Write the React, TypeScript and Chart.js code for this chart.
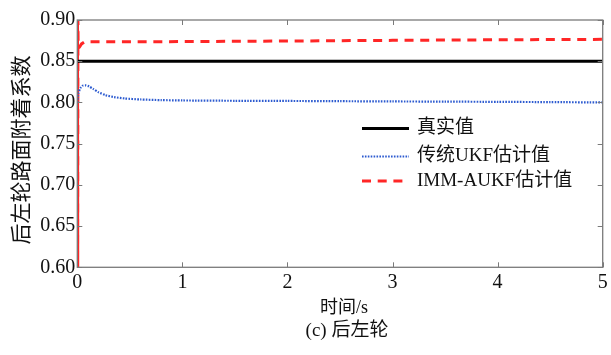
import React, { useEffect, useRef } from "react";
import { Chart, registerables } from "chart.js";

Chart.register(...registerables);

const seriesNames = ["真实值", "传统UKF估计值", "IMM-AUKF估计值"];

const trueT = [0, 5];
const trueV = [0.85, 0.85];

const ukfT = [0, 0.01, 0.03, 0.05, 0.08, 0.11, 0.15, 0.2, 0.27, 0.35, 0.45, 0.6, 0.8, 1.0, 1.5, 2.0, 2.5, 3.0, 3.5, 4.0, 4.5, 5.0];
const ukfV = [0.8, 0.811, 0.8175, 0.8203, 0.8207, 0.8195, 0.8165, 0.8125, 0.8088, 0.8065, 0.8048, 0.8036, 0.8028, 0.8024, 0.802, 0.8018, 0.8015, 0.8012, 0.801, 0.8007, 0.8004, 0.8];

const immT = [0, 0.002, 0.004, 0.006, 0.008, 0.02, 0.04, 0.07, 0.3, 1.0, 2.0, 3.0, 4.0, 5.0];
const immV = [0.6, 0.9, 0.6, 0.9, 0.866, 0.867, 0.871, 0.8735, 0.8735, 0.8738, 0.8745, 0.8753, 0.876, 0.8765];

const xTicks = [0, 1, 2, 3, 4, 5];
const yTicks = [0.6, 0.65, 0.7, 0.75, 0.8, 0.85, 0.9];

const yTitle = "后左轮路面附着系数";
const xTitle = "时间/s";
const caption = "(c) 后左轮";

const colors = ["#000000", "#2d5bd0", "#ff2626"];

const pts = (t: number[], v: number[]) => t.map((x, i) => ({ x, y: v[i] }));

const serif = '"Liberation Serif", "Noto Sans CJK SC", serif';

const framePlugin = {
  id: "frame",
  afterDraw(chart: any) {
    const { ctx, chartArea: a, scales } = chart;
    const xs = scales.x;
    const ys = scales.y;
    ctx.save();
    ctx.strokeStyle = "#7a7a7a";
    ctx.lineWidth = 1.3;
    ctx.strokeRect(a.left, a.top, a.right - a.left, a.bottom - a.top);
    ctx.lineWidth = 1;
    const tl = 5;
    xTicks.forEach((t) => {
      const px = Math.round(xs.getPixelForValue(t)) + 0.5;
      ctx.beginPath();
      ctx.moveTo(px, a.bottom);
      ctx.lineTo(px, a.bottom - tl);
      ctx.moveTo(px, a.top);
      ctx.lineTo(px, a.top + tl);
      ctx.stroke();
    });
    yTicks.forEach((t) => {
      const py = Math.round(ys.getPixelForValue(t)) + 0.5;
      ctx.beginPath();
      ctx.moveTo(a.left, py);
      ctx.lineTo(a.left + tl, py);
      ctx.moveTo(a.right, py);
      ctx.lineTo(a.right - tl, py);
      ctx.stroke();
    });

    // legend
    const lx0 = 362;
    const lx1 = 409;
    const ly = [128.5, 156.5, 181];
    const dashes = [[], [1.6, 1.3], [9, 6.7]];
    const widths = [3, 2.2, 3];
    seriesNames.forEach((name, i) => {
      ctx.beginPath();
      ctx.setLineDash(dashes[i]);
      ctx.strokeStyle = colors[i];
      ctx.lineWidth = widths[i];
      ctx.moveTo(lx0, ly[i]);
      ctx.lineTo(lx1, ly[i]);
      ctx.stroke();
      ctx.setLineDash([]);
      ctx.fillStyle = "#111";
      ctx.font = "19px " + serif;
      ctx.textBaseline = "middle";
      ctx.textAlign = "left";
      ctx.fillText(name, 417, ly[i]);
    });

    // titles
    ctx.fillStyle = "#111";
    ctx.save();
    ctx.translate(22, 150);
    ctx.rotate(-Math.PI / 2);
    ctx.font = "21px " + serif;
    ctx.textAlign = "center";
    ctx.textBaseline = "middle";
    ctx.fillText(yTitle, 0, 0);
    ctx.restore();

    ctx.font = "18px " + serif;
    ctx.textAlign = "center";
    ctx.textBaseline = "middle";
    ctx.fillText(xTitle, 344, 308);
    ctx.font = "19px " + serif;
    ctx.fillText(caption, 347, 331);
    ctx.restore();
  },
};

export default function App() {
  const ref = useRef<HTMLCanvasElement | null>(null);
  useEffect(() => {
    if (!ref.current) return;
    const chart = new Chart(ref.current, {
      type: "line",
      data: {
        datasets: [
          {
            label: seriesNames[0],
            data: pts(trueT, trueV),
            borderColor: colors[0],
            borderWidth: 3,
            pointRadius: 0,
            tension: 0,
          },
          {
            label: seriesNames[1],
            data: pts(ukfT, ukfV),
            borderColor: colors[1],
            borderWidth: 2.2,
            borderDash: [1.6, 1.3],
            pointRadius: 0,
            tension: 0.2,
          },
          {
            label: seriesNames[2],
            data: pts(immT, immV),
            borderColor: colors[2],
            borderWidth: 3,
            borderDash: [9, 6.7],
            pointRadius: 0,
            tension: 0,
          },
        ],
      },
      options: {
        animation: false,
        responsive: true,
        maintainAspectRatio: false,
        layout: { padding: { top: 20, right: 8.3, left: 0, bottom: 0 } },
        plugins: {
          legend: { display: false },
          tooltip: { enabled: false },
          title: { display: false },
        },
        scales: {
          x: {
            type: "linear",
            min: 0,
            max: 5,
            grid: { display: false, drawTicks: false },
            border: { display: false },
            ticks: {
              stepSize: 1,
              padding: 3,
              color: "#111",
              font: { family: serif, size: 20 },
              maxRotation: 0,
            },
            afterFit: (s: any) => {
              s.height = 87.7;
            },
          },
          y: {
            type: "linear",
            min: 0.6,
            max: 0.9,
            grid: { display: false, drawTicks: false },
            border: { display: false },
            ticks: {
              stepSize: 0.05,
              padding: 2,
              color: "#111",
              font: { family: serif, size: 20 },
              callback: (v: any) => Number(v).toFixed(2),
            },
            afterFit: (s: any) => {
              s.width = 77.3;
            },
          },
        },
      },
      plugins: [framePlugin],
    });
    return () => chart.destroy();
  }, []);
  return (
    <div style={{ position: "absolute", left: 0, top: 0, width: 611, height: 355, background: "#fff" }}>
      <canvas ref={ref} />
    </div>
  );
}
